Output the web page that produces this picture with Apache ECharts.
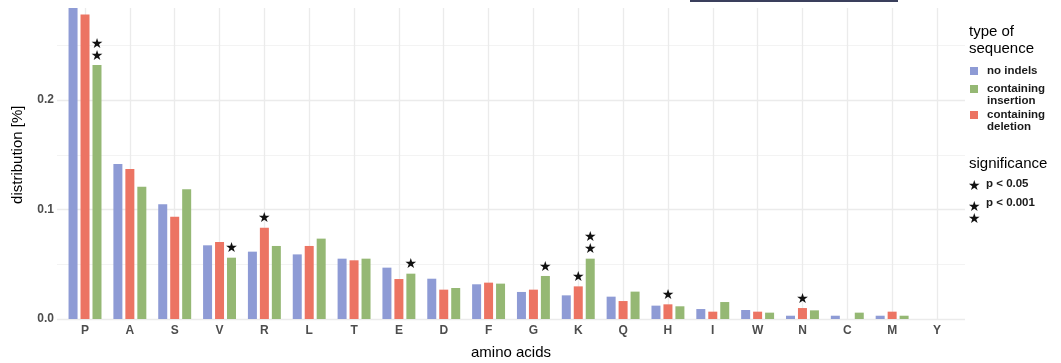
<!DOCTYPE html>
<html><head><meta charset="utf-8">
<script src="https://cdn.jsdelivr.net/npm/echarts@6/dist/echarts.min.js"></script>
<style>html,body{margin:0;padding:0;background:#fff}#c{width:1061px;height:363px}</style>
</head><body><div id="c"></div>
<script>
const categories = ['P','A','S','V','R','L','T','E','D','F','G','K','Q','H','I','W','N','C','M','Y'];
const noIndels   = [0.284,0.1416,0.1047,0.0673,0.0615,0.059,0.0551,0.0469,0.0368,0.0317,0.0247,0.0216,0.0204,0.0122,0.0091,0.0082,0.003,0.003,0.003,0];
const deletion   = [0.278,0.137,0.0934,0.0703,0.0834,0.0667,0.0536,0.0365,0.0268,0.0332,0.0268,0.0298,0.0164,0.0134,0.0067,0.0067,0.010,0,0.0067,0];
const insertion  = [0.232,0.1208,0.1184,0.056,0.0667,0.0734,0.0551,0.0414,0.0283,0.0323,0.0393,0.0551,0.025,0.0116,0.0155,0.0058,0.0079,0.0058,0.003,0];
// significance marks: 0 none, 1 = p<0.05, 2 = p<0.001
const sigDeletion  = [0,0,0,0,1,0,0,0,0,0,0,1,0,1,0,0,1,0,0,0];
const sigInsertion = [2,0,0,1,0,0,0,1,0,0,1,2,0,0,0,0,0,0,0,0];
const yTicks = [0, 0.1, 0.2];

const FONT = 'Liberation Sans, Arial, sans-serif';
const C_BLUE = '#8E9BD5', C_RED = '#EC7463', C_GREEN = '#95B874';
const GRID = '#EBEBEB';

function withStars(vals, sig) {
  return vals.map((v, i) => {
    if (!sig || !sig[i]) return v;
    return { value: v, label: { show: true, formatter: sig[i] === 2 ? '★\n★' : '★' } };
  });
}
const starLabel = { show: false, position: 'top', distance: 3, color: '#111', fontSize: 14, lineHeight: 12, fontFamily: 'DejaVu Sans' };

const ICON_ONE = 'path://M0,0h0.01v0.01h-0.01z M0,6h8v8h-8z M0,19.99h0.01v0.01h-0.01z';
const ICON_TWO = 'path://M0,0h8v8h-8z M0,19.99h0.01v0.01h-0.01z';

const chart = echarts.init(document.getElementById('c'), null, { renderer: 'canvas' });
chart.setOption({
  animation: false,
  backgroundColor: '#fff',
  grid: [
    { left: 57, right: 96, top: -9.5, bottom: 44, outerBoundsMode: 'none', containLabel: false },
    { left: 62.6, right: 101.6, top: -9.5, bottom: 44, outerBoundsMode: 'none', containLabel: false }
  ],
  xAxis: [
    { type: 'value', gridIndex: 0, show: false, min: 0, max: 1 },
    { type: 'category', gridIndex: 1, data: categories,
      axisLine: { show: false },
      axisTick: { show: true, alignWithLabel: true, inside: true, length: 311, lineStyle: { color: GRID, width: 1.3 } },
      axisLabel: { margin: 6, color: '#4D4D4D', fontSize: 12, fontWeight: 'bold', fontFamily: FONT },
      name: 'amino acids', nameLocation: 'middle', nameGap: 26,
      nameTextStyle: { color: '#000', fontSize: 15, fontFamily: FONT }
    }
  ],
  yAxis: [
    { type: 'value', gridIndex: 0, min: 0, max: 0.3, interval: 0.1,
      axisLine: { show: false }, axisTick: { show: false },
      axisLabel: { margin: 3, color: '#4D4D4D', fontSize: 12, fontWeight: 'bold', fontFamily: FONT,
        formatter: v => (yTicks.some(t => Math.abs(t - v) < 1e-9) ? v.toFixed(1) : '') },
      splitLine: { show: true, lineStyle: { color: GRID, width: 1.3 } },
      minorTick: { show: false, splitNumber: 2 },
      minorSplitLine: { show: true, lineStyle: { color: '#F3F3F3', width: 1 } },
      name: 'distribution [%]', nameLocation: 'middle', nameRotate: 90, nameGap: 32,
      nameTextStyle: { color: '#000', fontSize: 15, fontFamily: FONT }
    },
    { type: 'value', gridIndex: 1, min: 0, max: 0.3, show: false, splitLine: { show: false } }
  ],
  legend: {
    orient: 'vertical', left: 970, top: 61, padding: 0, itemGap: 2,
    itemWidth: 8, itemHeight: 20, selectedMode: false,
    textStyle: { color: '#1A1A1A', fontSize: 11.5, fontWeight: 'bold', fontFamily: FONT, lineHeight: 12, padding: [0, 0, 0, 4] },
    formatter: n => n.replace('containing ', 'containing\n'),
    data: [
      { name: 'no indels', icon: ICON_ONE },
      { name: 'containing insertion', icon: ICON_TWO },
      { name: 'containing deletion', icon: ICON_TWO }
    ]
  },
  graphic: [
    { type: 'rect', left: 690, top: 0, shape: { width: 208, height: 2 }, style: { fill: '#3A3F5C' } },
    { type: 'text', left: 969, top: 23, style: { text: 'type of\nsequence', fill: '#000', font: '15px ' + FONT, lineHeight: 17 } },
    { type: 'text', left: 969, top: 156, style: { text: 'significance', fill: '#000', font: '15px ' + FONT } },
    { type: 'text', left: 968, top: 179, style: { text: '★', fill: '#111', font: '14px DejaVu Sans' } },
    { type: 'text', left: 986, top: 178, style: { text: 'p < 0.05', fill: '#1A1A1A', font: 'bold 11.5px ' + FONT } },
    { type: 'text', left: 968, top: 200, style: { text: '★\n★', fill: '#111', font: '14px DejaVu Sans', lineHeight: 12 } },
    { type: 'text', left: 986, top: 197, style: { text: 'p < 0.001', fill: '#1A1A1A', font: 'bold 11.5px ' + FONT } }
  ],
  series: [
    { name: 'no indels', type: 'bar', xAxisIndex: 1, yAxisIndex: 1, data: noIndels,
      barWidth: 9, barGap: '33%', itemStyle: { color: C_BLUE }, label: starLabel },
    { name: 'containing deletion', type: 'bar', xAxisIndex: 1, yAxisIndex: 1, data: withStars(deletion, sigDeletion),
      barWidth: 9, barGap: '33%', itemStyle: { color: C_RED }, label: starLabel },
    { name: 'containing insertion', type: 'bar', xAxisIndex: 1, yAxisIndex: 1, data: withStars(insertion, sigInsertion),
      barWidth: 9, barGap: '33%', itemStyle: { color: C_GREEN }, label: starLabel }
  ]
});
</script></body></html>
